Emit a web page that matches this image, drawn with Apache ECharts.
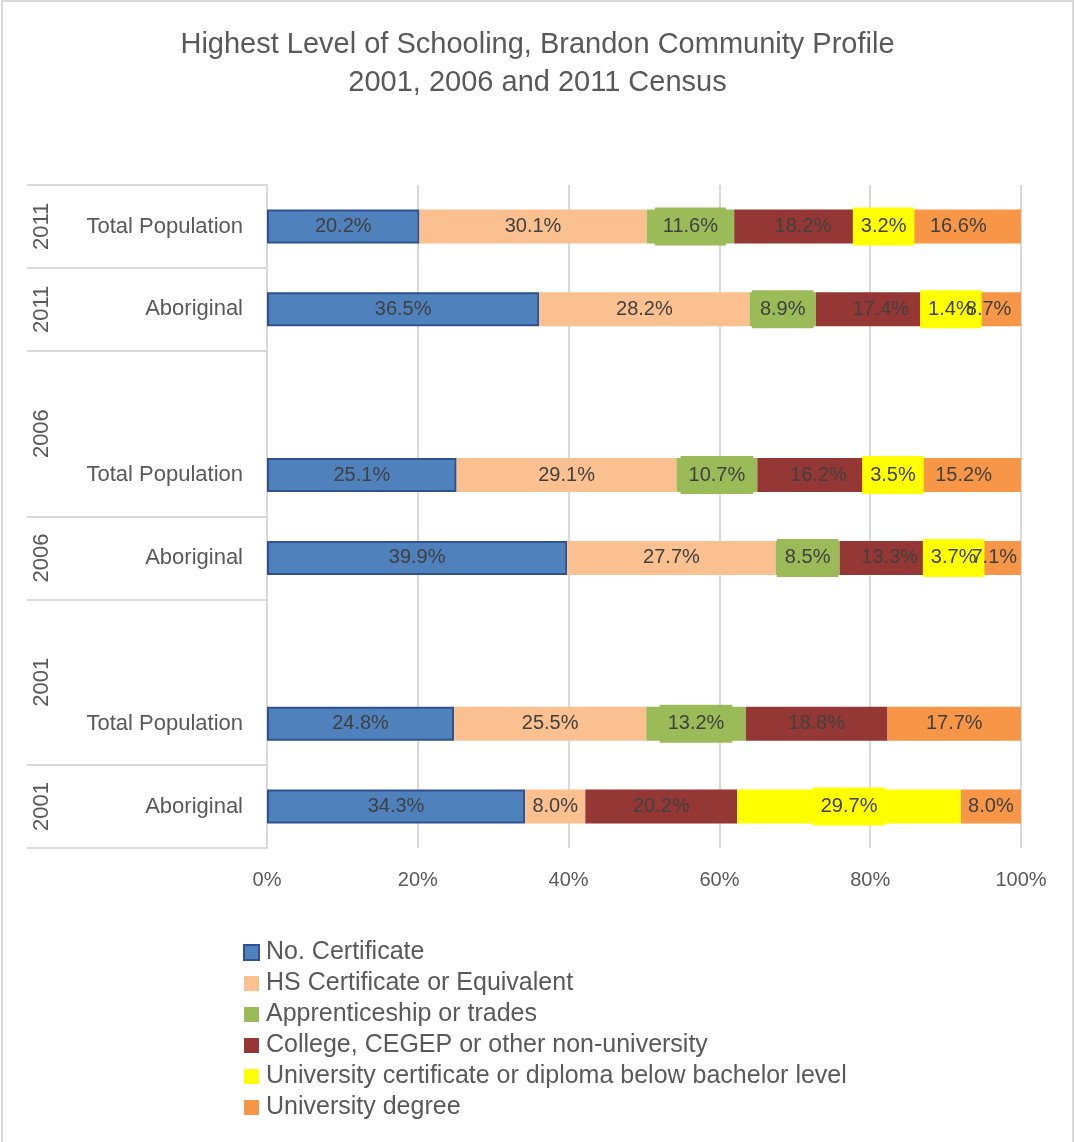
<!DOCTYPE html>
<html>
<head>
<meta charset="utf-8">
<script src="https://cdn.jsdelivr.net/npm/echarts@6/dist/echarts.min.js"></script>
<style>
  html, body { margin: 0; padding: 0; background: #fff; }
  #chart { width: 1075px; height: 1142px; }
</style>
</head>
<body>
<div id="chart"></div>
<script>
// category slots, top to bottom (blank slots are the gaps between census years)
const slots = ['Total Population', 'Aboriginal', '', 'Total Population', 'Aboriginal', '', 'Total Population', 'Aboriginal']
// outer (year) level: label + slot span it covers
const years = ['2011', '2011', '2006', '2006', '2001', '2001']
const yearSpans = [[0, 1], [1, 2], [2, 4], [4, 5], [5, 7], [7, 8]]

const seriesNames = [
  'No. Certificate',
  'HS Certificate or Equivalent',
  'Apprenticeship or trades',
  'College, CEGEP or other non-university',
  'University certificate or diploma below bachelor level',
  'University degree',
]
const noCert = [20.2, 36.5, null, 25.1, 39.9, null, 24.8, 34.3]
const hsCert = [30.1, 28.2, null, 29.1, 27.7, null, 25.5, 8.0]
const trades = [11.6, 8.9, null, 10.7, 8.5, null, 13.2, null]
const college = [18.2, 17.4, null, 16.2, 13.3, null, 18.8, 20.2]
const uniCert = [3.2, 1.4, null, 3.5, 3.7, null, null, 29.7]
const uniDegree = [16.6, 8.7, null, 15.2, 7.1, null, 17.7, 8.0]

const xTicks = [0, 20, 40, 60, 80, 100]

const allValues = [noCert, hsCert, trades, college, uniCert, uniDegree]
const colors = ['#4F81BD', '#FAC090', '#9BBB59', '#953735', '#FFFF00', '#F79646']
const labelBoxed = [false, false, true, false, true, false]

const FONT = 'Liberation Sans'
const TEXT = '#595959'
const GRIDLINE = '#d9d9d9'

// 100% stacked: each row scaled by its own total, labels keep the printed value
const totals = slots.map((_, i) => allValues.reduce((s, arr) => s + (arr[i] || 0), 0))

const yearCenters = yearSpans.map(s => (s[0] + s[1]) / 2)
const yearBounds = [...new Set(yearSpans.flat())]

const chart = echarts.init(document.getElementById('chart'))

const series = allValues.map((arr, k) => ({
  name: seriesNames[k],
  type: 'bar',
  stack: 'total',
  yAxisIndex: 0,
  barWidth: 34,
  data: arr.map((v, i) => (v == null ? null : { value: v / totals[i] * 100, raw: v })),
  itemStyle: k === 0
    ? { color: colors[k], borderColor: '#2F528F', borderWidth: 2 }
    : { color: colors[k] },
  label: {
    show: true,
    position: 'inside',
    formatter: p => p.data.raw.toFixed(1) + '%',
    color: '#404040',
    fontFamily: FONT,
    fontSize: 20,
    backgroundColor: labelBoxed[k] ? colors[k] : 'transparent',
    padding: labelBoxed[k] ? [9, 8] : 0,
  },
  emphasis: { disabled: true },
}))

chart.setOption({
  backgroundColor: '#ffffff',
  animation: false,
  textStyle: { fontFamily: FONT },
  title: {
    text: 'Highest Level of Schooling, Brandon Community Profile\n2001, 2006 and 2011 Census',
    left: 'center',
    top: 21,
    textStyle: { fontSize: 29, fontWeight: 'normal', color: TEXT, lineHeight: 38, fontFamily: FONT },
  },
  grid: { left: 267, right: 54, top: 185, bottom: 294 },
  legend: {
    orient: 'vertical',
    left: 243,
    top: 940,
    padding: 0,
    icon: 'rect',
    itemWidth: 15,
    itemHeight: 15,
    itemGap: 6,
    textStyle: { fontSize: 25, lineHeight: 25, color: TEXT, fontFamily: FONT, padding: [0, 0, 0, 2] },
    data: seriesNames,
  },
  xAxis: {
    type: 'value',
    min: 0,
    max: 100,
    interval: 20,
    axisLine: { show: false },
    axisTick: { show: false },
    axisLabel: { formatter: v => (xTicks.includes(v) ? v + '%' : ''), color: TEXT, fontSize: 20, margin: 22 },
    splitLine: { lineStyle: { color: GRIDLINE, width: 2 } },
  },
  yAxis: [
    {
      type: 'category',
      inverse: true,
      data: slots,
      axisLine: { show: true, lineStyle: { color: GRIDLINE, width: 2 } },
      axisTick: { show: false },
      axisLabel: { color: TEXT, fontSize: 22, margin: 24, interval: 0 },
    },
    {
      type: 'value',
      min: 0,
      max: slots.length,
      inverse: true,
      position: 'left',
      axisLine: { show: false },
      splitLine: { show: false },
      axisTick: {
        show: true,
        customValues: yearBounds,
        length: 240,
        lineStyle: { color: GRIDLINE, width: 2 },
      },
      axisLabel: {
        customValues: yearCenters,
        formatter: v => years[yearCenters.indexOf(v)] || '',
        rotate: 90,
        margin: 214,
        color: TEXT,
        fontSize: 22,
      },
    },
  ],
  series,
  graphic: [{
    type: 'rect',
    shape: { x: 2, y: 1, width: 1071, height: 1150 },
    style: { fill: 'none', stroke: GRIDLINE, lineWidth: 2 },
    silent: true,
  }],
})
</script>
</body>
</html>
